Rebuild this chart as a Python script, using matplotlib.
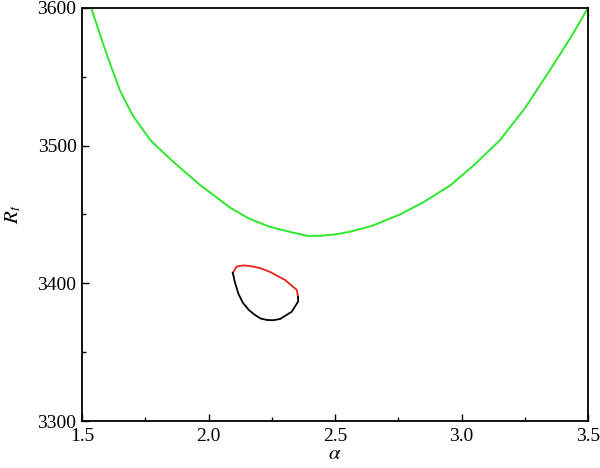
import matplotlib
matplotlib.use("Agg")
import matplotlib.pyplot as plt

plt.rcParams['font.family'] = ['Liberation Serif', 'DejaVu Serif']
plt.rcParams['mathtext.fontset'] = 'stix'

# green curve (upper envelope)
green_alpha = [1.536, 1.60, 1.65, 1.70, 1.77, 1.85, 1.966, 2.085, 2.16, 2.243, 2.33, 2.39, 2.44,
               2.50, 2.56, 2.65, 2.757, 2.85, 2.955, 3.05, 3.152, 3.25, 3.35, 3.43, 3.50]
green_rt = [3600, 3565, 3540, 3522, 3504, 3490, 3471.5, 3455, 3447, 3441, 3437, 3434.5, 3434.5,
            3435.5, 3437.5, 3442, 3450, 3459, 3471, 3486, 3504, 3527, 3555, 3578, 3600]

# closed contour: red upper half, black lower half
red_alpha = [2.096, 2.111, 2.135, 2.164, 2.205, 2.243, 2.302, 2.349, 2.354]
red_rt = [3407.6, 3412.1, 3413.0, 3412.6, 3411.0, 3408.3, 3402.5, 3395.2, 3390.1]
black_alpha = [2.096, 2.105, 2.118, 2.136, 2.160, 2.184, 2.205, 2.230, 2.255, 2.283, 2.329, 2.354, 2.354]
black_rt = [3407.6, 3400.3, 3392.5, 3385.8, 3380.5, 3377.0, 3374.5, 3373.4, 3373.2, 3374.1, 3379.4, 3386.7, 3390.1]

fig = plt.figure(figsize=(6, 4.68), dpi=100)
ax = fig.add_axes([0.1367, 0.1004, 0.8433, 0.8826])

ax.plot(green_alpha, green_rt, color='#2ee82e', linewidth=1.4)
ax.plot(red_alpha, red_rt, color='#e82020', linewidth=1.3)
ax.plot(black_alpha, black_rt, color='black', linewidth=1.3)

ax.set_xlim(1.5, 3.5)
ax.set_ylim(3300, 3600)
ax.set_xticks([1.5, 2.0, 2.5, 3.0, 3.5])
ax.set_xticklabels(['1.5', '2.0', '2.5', '3.0', '3.5'])
ax.set_yticks([3300, 3400, 3500, 3600])
ax.set_xticks([1.75, 2.25, 2.75, 3.25], minor=True)
ax.set_yticks([3350, 3450, 3550], minor=True)
ax.tick_params(which='both', direction='in', labelsize=14, top=False, right=False, width=1.0)
ax.tick_params(which='major', length=5)
ax.tick_params(axis='x', which='major', pad=5)
ax.tick_params(axis='y', which='major', pad=4)
ax.tick_params(which='minor', length=3)
for s in ax.spines.values():
    s.set_linewidth(1.3)

ax.set_xlabel(r'$\alpha$', fontsize=15, labelpad=0)
ax.set_ylabel(r'$R_t$', fontsize=15, labelpad=10)

fig.savefig('out.png', dpi=100)
